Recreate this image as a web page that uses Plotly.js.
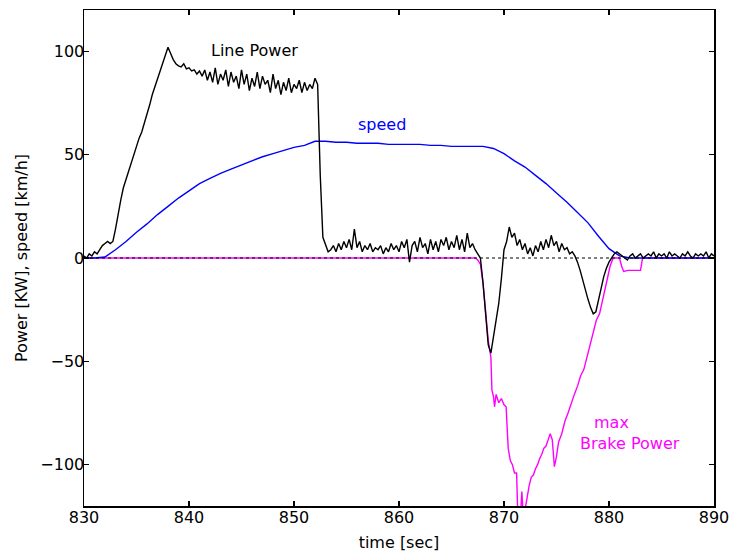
<!DOCTYPE html>
<html>
<head>
<meta charset="utf-8">
<script src="https://cdn.plot.ly/plotly-3.0.1.min.js"></script>
<style>html,body{margin:0;padding:0;background:#fff;}#chart{width:731px;height:559px;}</style>
</head>
<body>
<div id="chart"></div>
<script>
// Line power, sampled every 0.25 s from 830 s
const powerStart = 830;
const powerStep = 0.25;
const linePower = [
  1, 0, 2, 1, 3, 2, 4, 6, 7, 8, 7, 8,
  14, 22, 28, 34, 38, 43, 47, 50, 54, 58, 61, 65, 70, 74, 79, 83, 86, 91, 95, 99,
  102, 99, 96, 94,
  93, 92.5, 94, 91.5,
  92, 90.5, 91, 89,
  90.5, 88, 91, 86,
  90, 85, 92, 84,
  89, 86, 91, 83,
  90, 85, 88, 82,
  91, 84, 89, 81,
  87, 83, 90, 82,
  88, 84, 86, 80,
  89, 82, 86, 79,
  85, 81, 87, 80,
  84, 82, 86, 80,
  85, 81, 84, 82,
  87, 84, 40, 10,
  6, 3, 4, 6,
  3, 7, 4, 8,
  5, 9, 4, 14,
  5, 8, 3, 6,
  4, 7, 3, 5,
  4, 6, 2, 5,
  3, 7, 4, 6,
  3, 8, 5, 9,
  -2, 6, 8, 3,
  10, 5, 7, 2,
  9, 4, 8, 3,
  9, 6, 10, 4,
  8, 5, 11, 4,
  9, 3, 12, 5,
  7, 4, 2, 0,
  -12, -28, -42, -46,
  -38, -28, -22, -10,
  4, 8, 15, 10,
  12, 6, 9, 4,
  7, 2, 5, 1,
  6, 3, 8, 4,
  9, 5, 11, 6,
  8, 3, 7, 4,
  5, 2, 3, 1,
  -2, -6, -11, -16,
  -20, -24, -27, -26,
  -20, -14, -9, -5,
  -2, 0, 2, 3,
  2, 1, 0, -1,
  1, 2, 0, 1,
  2, 0, 1, 2,
  1, 3, 0, 2,
  1, 2, 0, 3,
  1, 2, 1, 0,
  2, 1, 3, 1,
  0, 2, 1, 2,
  1, 3, 0, 2,
  1
];

// Speed, sampled every 1 s from 830 s
const speedStart = 830;
const speedStep = 1;
const speed = [
  0, 0, 0.5, 4, 8, 12.5, 16.5, 21, 25, 29,
  32.5, 36, 38.5, 41, 43, 45, 47, 49, 50.5, 52,
  53.5, 54.5, 56.5, 56.5, 56, 56, 55.5, 55.5, 55.5, 55,
  55, 55, 55, 54.5, 54.5, 54, 54, 54, 54, 53,
  50.5, 47, 44, 40, 36, 31.5, 27, 22, 17, 10.5,
  4.5, 1, 0, 0, 0, 0, 0, 0, 0, 0,
  0
];

// Max brake power
const brakeTime = [
  830, 867.25, 867.5, 867.75, 868, 868.25, 868.5, 868.75, 868.85, 869,
  869.1, 869.25, 869.5, 869.75, 870, 870.2, 870.4, 870.6, 870.8, 871,
  871.2, 871.3, 871.6, 871.7, 871.8, 872, 872.2, 872.4, 872.6, 872.8,
  873, 873.2, 873.4, 873.6, 873.8, 874, 874.2, 874.4, 874.6, 874.8,
  875, 875.2, 875.5, 875.8, 876.1, 876.4, 876.7, 877, 877.3, 877.6,
  877.9, 878.2, 878.5, 878.8, 879.1, 879.3, 879.5, 879.8, 880.1, 880.4,
  881, 881.2, 881.4, 881.8, 882.5, 883, 883.2, 890
];
const brakePower = [
  0, 0, -1, -3, -12, -28, -40, -48, -64, -67,
  -72, -66, -70, -68, -71, -72, -92, -98, -100, -104,
  -104, -122, -122, -113, -122, -122, -115, -110, -106, -105,
  -102, -100, -97, -95, -92, -91, -88, -85, -88, -101,
  -96, -89, -85, -79, -75, -70, -66, -62, -57, -54,
  -48, -41, -36, -30, -27, -22, -18, -11, -4, 0,
  0, -4, -6.5, -6, -6, -6, 0, 0
];

const labels = [
  {text: 'Line Power', x: 846.2, y: 100.5, color: '#000000'},
  {text: 'speed', x: 858.4, y: 64.7, color: '#0000ff'},
  {text: 'max', x: 880.2, y: -79.7, color: '#ff00ff'},
  {text: 'Brake Power', x: 882, y: -89.9, color: '#ff00ff'}
];

const FONT = 'DejaVu Sans, Liberation Sans, Arial, sans-serif';

const traces = [
  {type: 'scatter', mode: 'lines', x: brakeTime, y: brakePower,
   line: {color: '#ff00ff', width: 1.4}, hoverinfo: 'skip'},
  {type: 'scatter', mode: 'lines', x0: speedStart, dx: speedStep, y: speed,
   line: {color: '#0000ff', width: 1.4}, hoverinfo: 'skip'},
  {type: 'scatter', mode: 'lines', x0: powerStart, dx: powerStep, y: linePower,
   line: {color: '#000000', width: 1.4}, hoverinfo: 'skip'}
];

const layout = {
  width: 731, height: 559,
  margin: {l: 84, r: 17, t: 10, b: 53},
  paper_bgcolor: '#ffffff', plot_bgcolor: '#ffffff',
  showlegend: false,
  font: {family: FONT, size: 16, color: '#000000'},
  xaxis: {
    range: [830, 890], tickvals: [830, 840, 850, 860, 870, 880, 890],
    ticks: 'inside', ticklen: 5, tickwidth: 1.5, tickcolor: '#000',
    showline: true, linecolor: '#000', linewidth: 1.5, mirror: 'ticks',
    showgrid: false, zeroline: false,
    ticklabelstandoff: -4,
    tickfont: {family: FONT, size: 16},
    title: {text: 'time [sec]', font: {family: FONT, size: 16}, standoff: 11}
  },
  yaxis: {
    range: [-120, 120], tickvals: [-100, -50, 0, 50, 100],
    ticks: 'inside', ticklen: 5, tickwidth: 1.5, tickcolor: '#000',
    showline: true, linecolor: '#000', linewidth: 1.5, mirror: 'ticks',
    showgrid: false, zeroline: false,
    ticklabelstandoff: -5,
    tickfont: {family: FONT, size: 16},
    title: {text: 'Power [KW], speed [km/h]', font: {family: FONT, size: 16}, standoff: 8}
  },
  shapes: [{type: 'line', xref: 'paper', yref: 'y', x0: 0, x1: 1, y0: 0, y1: 0,
            line: {color: '#000', width: 1, dash: 'dot'}, layer: 'above'}],
  annotations: labels.map(l => ({
    text: l.text, x: l.x, y: l.y, xref: 'x', yref: 'y', showarrow: false,
    font: {family: FONT, size: 16, color: l.color}
  }))
};

Plotly.newPlot('chart', traces, layout, {displayModeBar: false, staticPlot: true});
</script>
</body>
</html>
